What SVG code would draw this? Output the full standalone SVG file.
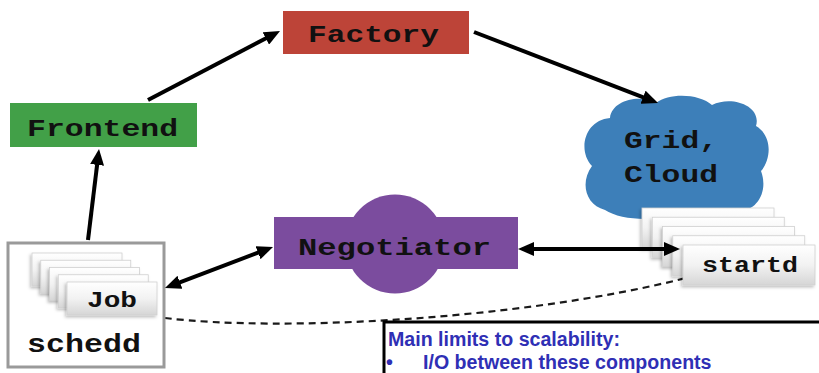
<svg xmlns="http://www.w3.org/2000/svg" width="819" height="373" viewBox="0 0 819 373">
  <style>
    .lbl { font-family: "Liberation Mono", "Courier New", monospace; font-weight: bold; fill: #111; text-anchor: middle; }
    .link { stroke: #000; stroke-width: 4; fill: none; }
    .card { fill: url(#cardFill); stroke: #d0d0d0; stroke-width: 0.8; filter: url(#cardShadow); }
    .note { font-family: "Liberation Sans", Arial, sans-serif; font-weight: bold; font-size: 19.6px; fill: #2f2fb5; }
  </style>
  <defs>
    <marker id="head" viewBox="0 0 16 14" markerWidth="16" markerHeight="14" refX="10" refY="7" markerUnits="userSpaceOnUse" orient="auto-start-reverse">
      <path d="M0,0 L16,7 L0,14 Z" fill="#000"/>
    </marker>
    <linearGradient id="cardFill" x1="0" y1="0" x2="0" y2="1">
      <stop offset="0" stop-color="#ffffff"/>
      <stop offset="0.5" stop-color="#f2f2f2"/>
      <stop offset="1" stop-color="#d6d6d6"/>
    </linearGradient>
    <filter id="cardShadow" x="-10%" y="-10%" width="120%" height="130%">
      <feDropShadow dx="-1.5" dy="2" stdDeviation="1.5" flood-color="#000" flood-opacity="0.25"/>
    </filter>
  </defs>

  <!-- dashed link between schedd and startd -->
  <path d="M165,318 C280,332 520,320 686,278" fill="none" stroke="#1a1a1a" stroke-width="2.2" stroke-dasharray="7,5"/>

  <g id="factory">
    <rect x="283" y="11" width="186" height="43" fill="#bd4438"/>
    <text class="lbl" x="373.5" y="42" font-size="24" textLength="131" lengthAdjust="spacingAndGlyphs">Factory</text>
  </g>

  <g id="frontend">
    <rect x="10" y="103" width="187" height="44" fill="#42a048"/>
    <text class="lbl" x="102.5" y="136" font-size="24" textLength="151" lengthAdjust="spacingAndGlyphs">Frontend</text>
  </g>

  <g id="grid-cloud">
    <path d="M605,210 C585,205 580,182 592,166 C577,150 585,120 610,118 C612,100 640,94 656,103 C670,92 700,94 712,105 C732,95 762,106 756,126 C773,136 771,160 761,171 C769,192 756,213 736,211 C720,222 690,222 675,214 C655,222 620,220 605,210 Z" fill="#3d7fb9"/>
    <text class="lbl" x="624" y="148" font-size="24" style="text-anchor:start" textLength="94" lengthAdjust="spacingAndGlyphs">Grid,</text>
    <text class="lbl" x="624" y="182" font-size="24" style="text-anchor:start" textLength="94" lengthAdjust="spacingAndGlyphs">Cloud</text>
  </g>

  <g id="negotiator">
    <circle cx="395" cy="244" r="49.5" fill="#7b4c9e"/>
    <rect x="274" y="217" width="244" height="52" fill="#7b4c9e"/>
    <text class="lbl" x="394.5" y="255" font-size="24" textLength="193" lengthAdjust="spacingAndGlyphs">Negotiator</text>
  </g>

  <g id="schedd">
    <rect x="8" y="243" width="156" height="124" fill="#fff" stroke="#9a9a9a" stroke-width="3"/>
    <rect class="card" x="32" y="253" width="90" height="33"/>
    <rect class="card" x="40.75" y="260.25" width="90" height="33"/>
    <rect class="card" x="49.5" y="267.5" width="90" height="33"/>
    <rect class="card" x="58.25" y="274.75" width="90" height="33"/>
    <rect class="card" x="67" y="282" width="90" height="33"/>
    <text class="lbl" x="112" y="307" font-size="22" textLength="50" lengthAdjust="spacingAndGlyphs">Job</text>
    <text class="lbl" x="84" y="352" font-size="26" textLength="114" lengthAdjust="spacingAndGlyphs">schedd</text>
  </g>

  <g id="startd">
    <rect class="card" x="642" y="208" width="132" height="40"/>
    <rect class="card" x="652.25" y="217.25" width="132" height="40"/>
    <rect class="card" x="662.5" y="226.5" width="132" height="40"/>
    <rect class="card" x="672.75" y="235.75" width="132" height="40"/>
    <rect class="card" x="683" y="245" width="132" height="40"/>
    <text class="lbl" x="750" y="272" font-size="22" textLength="96" lengthAdjust="spacingAndGlyphs">startd</text>
  </g>

  <g id="connectors">
    <line class="link" x1="88" y1="240" x2="98.3" y2="155" marker-end="url(#head)"/>
    <line class="link" x1="148" y1="100" x2="274.7" y2="33.8" marker-end="url(#head)"/>
    <line class="link" x1="474" y1="32" x2="652.4" y2="100.8" marker-end="url(#head)"/>
    <line class="link" x1="170.6" y1="285.9" x2="267.4" y2="249.1" marker-start="url(#head)" marker-end="url(#head)"/>
    <line class="link" x1="524" y1="249" x2="674" y2="249" marker-start="url(#head)" marker-end="url(#head)"/>
  </g>

  <g id="limits-note">
    <rect x="384" y="322" width="440" height="60" fill="#fff" stroke="#000" stroke-width="3"/>
    <text class="note" x="388" y="346">Main limits to scalability:</text>
    <text class="note" x="386" y="369" font-size="14">•</text>
    <text class="note" x="423" y="369">I/O between these components</text>
  </g>
</svg>
